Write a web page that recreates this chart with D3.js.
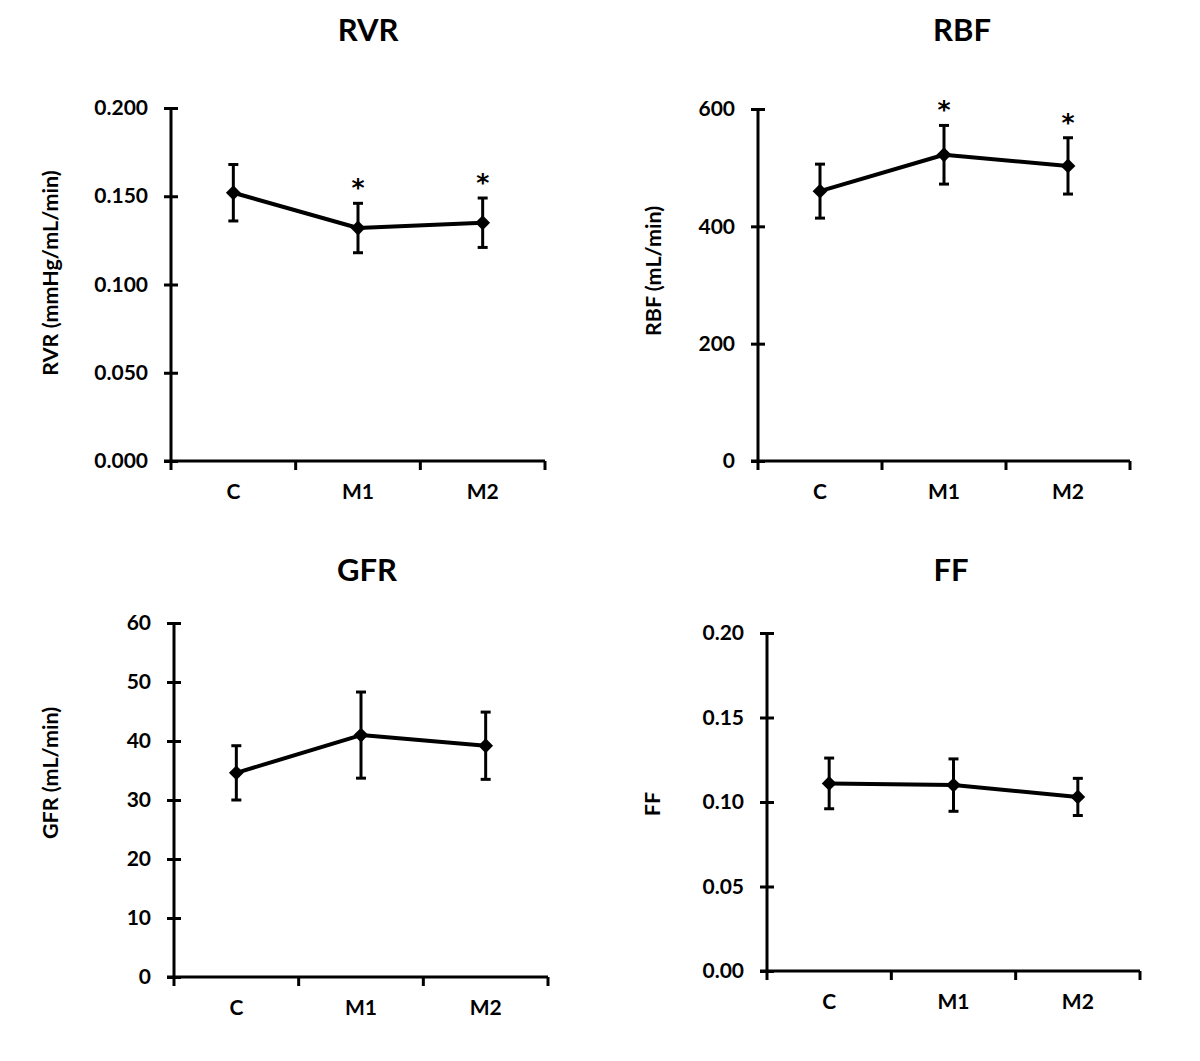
<!DOCTYPE html>
<html>
<head>
<meta charset="utf-8">
<script src="https://cdn.jsdelivr.net/npm/d3@7/dist/d3.min.js"></script>
<style>
  html, body { margin: 0; padding: 0; background: #fff; }
  svg { display: block; }
  text { font-family: Lato, "Open Sans", sans-serif; font-weight: bold; fill: #000; }
</style>
</head>
<body>
<svg id="chart" width="1200" height="1061"></svg>
<script>
// ---- data ----
const categories = ["C", "M1", "M2"];

const rvrMean = [0.152, 0.132, 0.135];
const rvrErr  = [0.016, 0.014, 0.014];
const rvrSig  = [false, true, true];
const rvrTicks = [0, 0.05, 0.10, 0.15, 0.20];

const rbfMean = [460, 522, 503];
const rbfErr  = [46, 50, 48];
const rbfSig  = [false, true, true];
const rbfTicks = [0, 200, 400, 600];

const gfrMean = [34.6, 41.0, 39.2];
const gfrErr  = [4.6, 7.3, 5.7];
const gfrSig  = [false, false, false];
const gfrTicks = [0, 10, 20, 30, 40, 50, 60];

const ffMean = [0.111, 0.110, 0.103];
const ffErr  = [0.015, 0.0155, 0.011];
const ffSig  = [false, false, false];
const ffTicks = [0, 0.05, 0.10, 0.15, 0.20];

// ---- layout (positions kept separate from data) ----
const panels = [
  { title: "RVR", ylab: "RVR (mmHg/mL/min)", mean: rvrMean, err: rvrErr, sig: rvrSig, ticks: rvrTicks, fmt: ".3f",
    x0: 171, x1: 545, yTop: 108, yBot: 461, titleX: 368, titleY: 41, labX: 52, labY: 273 },
  { title: "RBF", ylab: "RBF (mL/min)", mean: rbfMean, err: rbfErr, sig: rbfSig, ticks: rbfTicks, fmt: "d",
    x0: 758, x1: 1130, yTop: 109, yBot: 461, titleX: 962, titleY: 41, labX: 655, labY: 271 },
  { title: "GFR", ylab: "GFR (mL/min)", mean: gfrMean, err: gfrErr, sig: gfrSig, ticks: gfrTicks, fmt: "d",
    x0: 174, x1: 548, yTop: 623, yBot: 977, titleX: 367, titleY: 581, labX: 52, labY: 773 },
  { title: "FF", ylab: "FF", mean: ffMean, err: ffErr, sig: ffSig, ticks: ffTicks, fmt: ".2f",
    x0: 767, x1: 1140, yTop: 633, yBot: 971, titleX: 951, titleY: 581, labX: 654, labY: 804 }
];

const svg = d3.select("#chart");

panels.forEach(p => {
  const g = svg.append("g");
  const x = d3.scaleBand().domain(categories).range([p.x0, p.x1]).padding(0);
  const y = d3.scaleLinear().domain([p.ticks[0], p.ticks[p.ticks.length - 1]]).range([p.yBot, p.yTop]);

  // title
  g.append("text").attr("x", p.titleX).attr("y", p.titleY)
    .attr("text-anchor", "middle").style("font-size", "31px").text(p.title);

  // y axis label
  g.append("text")
    .attr("transform", `translate(${p.labX},${p.labY}) rotate(-90)`)
    .attr("text-anchor", "middle").attr("dominant-baseline", "middle")
    .style("font-size", "21.5px").text(p.ylab);

  // y axis
  const yAxis = d3.axisLeft(y).tickValues(p.ticks).tickFormat(d3.format(p.fmt))
    .tickSizeInner(7).tickSizeOuter(0).tickPadding(16);
  const ya = g.append("g").attr("transform", `translate(${p.x0},0)`).call(yAxis);
  ya.select(".domain").attr("stroke", "#000").attr("stroke-width", 3)
    .attr("d", `M0,${p.yTop}V${p.yBot + 1.5}`);
  ya.selectAll(".tick line").attr("stroke", "#000").attr("stroke-width", 3).attr("x1", 7).attr("x2", -7);
  ya.selectAll(".tick text").style("font-size", "21px").style("font-family", "Lato, sans-serif")
    .style("font-weight", "bold").attr("fill", "#000");

  // x axis
  const xa = g.append("g").attr("transform", `translate(0,${p.yBot})`);
  xa.append("path").attr("stroke", "#000").attr("stroke-width", 3).attr("fill", "none")
    .attr("d", `M${p.x0 - 7},0H${p.x1}`);
  const bounds = categories.map(c => x(c)).concat([p.x1]);
  xa.selectAll("line.xt").data(bounds).join("line").attr("class", "xt")
    .attr("x1", d => d).attr("x2", d => d).attr("y1", 0).attr("y2", 9)
    .attr("stroke", "#000").attr("stroke-width", 3);
  xa.selectAll("text.xl").data(categories).join("text").attr("class", "xl")
    .attr("x", d => x(d) + x.bandwidth() / 2).attr("y", 33)
    .attr("text-anchor", "middle").attr("dominant-baseline", "middle")
    .style("font-size", "21px").text(d => d);

  const cx = c => x(c) + x.bandwidth() / 2;
  const pts = categories.map((c, i) => ({ c, m: p.mean[i], e: p.err[i], s: p.sig[i] }));

  // error bars
  const eb = g.append("g");
  eb.selectAll("line.v").data(pts).join("line").attr("class", "v")
    .attr("x1", d => cx(d.c)).attr("x2", d => cx(d.c))
    .attr("y1", d => y(d.m + d.e)).attr("y2", d => y(d.m - d.e))
    .attr("stroke", "#000").attr("stroke-width", 3);
  ["t", "b"].forEach(k => {
    eb.selectAll("line.c" + k).data(pts).join("line").attr("class", "c" + k)
      .attr("x1", d => cx(d.c) - 5).attr("x2", d => cx(d.c) + 5)
      .attr("y1", d => y(k === "t" ? d.m + d.e : d.m - d.e))
      .attr("y2", d => y(k === "t" ? d.m + d.e : d.m - d.e))
      .attr("stroke", "#000").attr("stroke-width", 3);
  });

  // line
  const line = d3.line().x(d => cx(d.c)).y(d => y(d.m));
  g.append("path").datum(pts).attr("d", line).attr("fill", "none")
    .attr("stroke", "#000").attr("stroke-width", 4).attr("stroke-linejoin", "round");

  // markers
  const sym = d3.symbol().type(d3.symbolDiamond2).size(140);
  g.selectAll("path.mk").data(pts).join("path").attr("class", "mk")
    .attr("transform", d => `translate(${cx(d.c)},${y(d.m)})`)
    .attr("d", sym).attr("fill", "#000");

  // significance asterisks
  g.selectAll("text.sig").data(pts.filter(d => d.s)).join("text").attr("class", "sig")
    .attr("x", d => cx(d.c)).attr("y", d => y(d.m + d.e) - 7)
    .attr("text-anchor", "middle")
    .style("font-family", "'DejaVu Sans', sans-serif").style("font-size", "25px").text("*");
});
</script>
</body>
</html>
